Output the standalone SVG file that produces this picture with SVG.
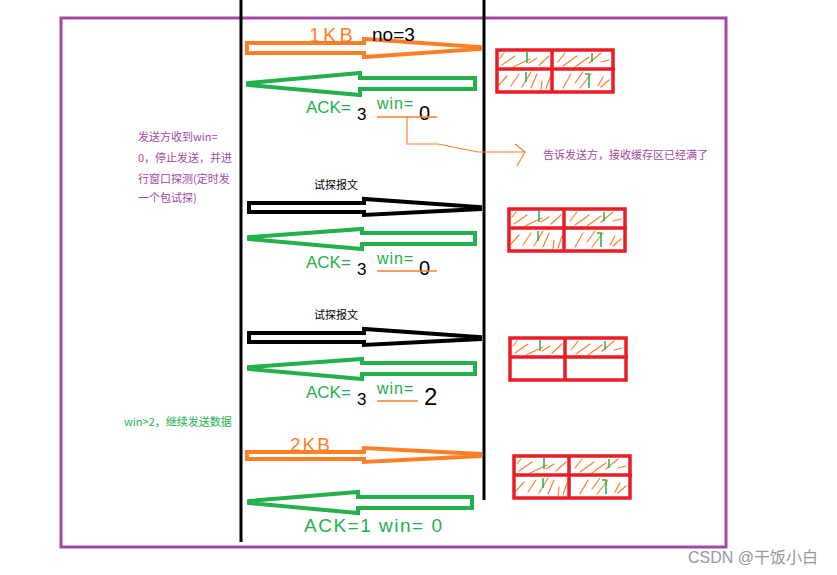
<svg xmlns="http://www.w3.org/2000/svg" width="837" height="575" viewBox="0 0 837 575">
<style>
.hand{font-family:"Liberation Sans","DejaVu Sans",sans-serif}
.g{fill:#22B14C}.o{fill:#FF7F27}.k{fill:#000}
.note{font-family:"Noto Sans CJK SC","Noto Sans",sans-serif;font-size:11px}
.msg{fill:#fff;stroke-width:4;stroke-linejoin:miter}
.cell{fill:none;stroke:#ED1C24;stroke-width:3.5}
.ht{stroke:#FF7F27;stroke-width:1.2;fill:none;stroke-linecap:round}
.gt{stroke:#22B14C;stroke-width:1.5;fill:none}
</style>
<defs>
<g id="hatchTop">
<path class="ht" d="M3,8 L7,3 M5,15 L18,6 M16,17 L33,9 M32,13 L40,8 M42,15 L52,6 M61,12 L68,3 M66,16 L80,6 M78,17 L92,7 M92,13 L104,3 M104,12 L112,10"/>
<path class="gt" d="M30,2 V13 M95,3 V12"/>
</g>
<g id="hatchBot">
<path class="ht" d="M2,35 L10,26 M14,36 L22,24 M25,37 L34,22 M34,38 L40,24 M44,40 L45,31 M49,39 L53,27 M66,38 L74,24 M78,33 L86,22 M83,38 L94,24 M101,36 L106,27 M104,37 L112,30"/>
<path class="gt" d="M29,22 V32 M92,38 V24 H88"/>
</g>
<g id="frame">
<rect class="cell" x="0" y="0" width="116" height="42"/>
<path class="cell" d="M55,0 V42 M0,19 H118"/>
</g>
</defs>
<rect width="837" height="575" fill="#fff"/>
<rect x="61" y="18" width="665" height="529" fill="none" stroke="#A349A4" stroke-width="3"/>
<g id="lifelines">
<line x1="241" y1="0" x2="241" y2="542" stroke="#000" stroke-width="3"/>
<line x1="484" y1="0" x2="484" y2="500" stroke="#000" stroke-width="3"/>
</g>
<g id="connectors">
<path class="msg" stroke="#FF7F27" d="M247,43 H364 V39 L480,47 V49 L364,57 V53 H247 Z"/>
<path class="msg" stroke="#22B14C" d="M475,78 H360 V73 L248,83 V85 L360,95 V89 H475 Z"/>
<path class="msg" stroke="#000" d="M249,203 H364 V199 L480,207 V209 L364,215 V212 H249 Z"/>
<path class="msg" stroke="#22B14C" d="M475,233 H362 V229 L249,237 V239 L362,249 V244 H475 Z"/>
<path class="msg" stroke="#000" d="M249,333 H364 V329 L480,337 V339 L364,345 V342 H249 Z"/>
<path class="msg" stroke="#22B14C" d="M475,363 H362 V359 L249,367 V369 L362,379 V374 H475 Z"/>
<path class="msg" stroke="#FF7F27" stroke-width="3.5" d="M247,452 H364 V448 L480,454 V456 L364,462 V459 H247 Z"/>
<path class="msg" stroke="#22B14C" d="M472,497 H358 V492 L249,501 V503 L358,513 V508 H472 Z"/>
<path d="M407,116 V144 H438 L478,152 H525 M515,144 L525,152 L517,166" fill="none" stroke="#FF7F27" stroke-width="1.2"/>
</g>
<g id="buf1" transform="translate(497,50)"><use href="#hatchTop"/><use href="#hatchBot"/><use href="#frame"/></g>
<g id="buf2" transform="translate(509,209)"><use href="#hatchTop"/><use href="#hatchBot"/><use href="#frame"/></g>
<g id="buf3" transform="translate(510,338)"><use href="#hatchTop"/><use href="#frame"/></g>
<g id="buf4" transform="translate(514,456)"><use href="#hatchTop"/><use href="#hatchBot"/><use href="#frame"/></g>
<g id="labels1" class="hand">
<text x="309" y="42" class="o" font-size="20" letter-spacing="3">1KB</text>
<text x="372" y="41" class="k" font-size="19">no=3</text>
<text x="306" y="113" class="g" font-size="17">ACK=</text>
<text x="357" y="120" class="k" font-size="17">3</text>
<text x="377" y="109" class="g" font-size="16" letter-spacing="1">win=</text>
<text x="419" y="120" class="k" font-size="20">0</text>
<line x1="377" y1="117" x2="437" y2="117" stroke="#FF7F27" stroke-width="1.5"/>
</g>
<g id="note1"><text x="543" y="159" class="note" fill="#A349A4">告诉发送方，接收缓存区已经满了</text></g>
<g id="note2" class="note" fill="#A349A4">
<text x="138" y="141">发送方收到win=</text>
<text x="138" y="162">0，停止发送，并进</text>
<text x="138" y="183">行窗口探测(定时发</text>
<text x="138" y="202">一个包试探)</text>
</g>
<g id="probe1"><text x="314" y="189" class="note" fill="#000">试探报文</text></g>
<g id="labels2" class="hand">
<text x="306" y="268" class="g" font-size="17">ACK=</text>
<text x="357" y="275" class="k" font-size="17">3</text>
<text x="377" y="264" class="g" font-size="16" letter-spacing="1">win=</text>
<text x="419" y="275" class="k" font-size="20">0</text>
<line x1="377" y1="271" x2="437" y2="271" stroke="#FF7F27" stroke-width="1.5"/>
</g>
<g id="probe2"><text x="314" y="319" class="note" fill="#000">试探报文</text></g>
<g id="labels3" class="hand">
<text x="306" y="398" class="g" font-size="17">ACK=</text>
<text x="357" y="405" class="k" font-size="17">3</text>
<text x="377" y="394" class="g" font-size="16" letter-spacing="1">win=</text>
<text x="424" y="405" class="k" font-size="24">2</text>
<line x1="377" y1="401" x2="418" y2="401" stroke="#FF7F27" stroke-width="1.5"/>
</g>
<g id="note3"><text x="124" y="426" class="note" fill="#22B14C">win&gt;2，继续发送数据</text></g>
<g id="labels4" class="hand">
<text x="290" y="451" class="o" font-size="19" letter-spacing="2">2KB</text>
<text x="304" y="532" class="g" font-size="19" letter-spacing="1.5">ACK=1 win= 0</text>
</g>
<g id="watermark"><text x="688" y="563" font-family="Liberation Sans,'Noto Sans CJK SC',sans-serif" font-size="16" fill="#999">CSDN @干饭小白</text></g>
</svg>
